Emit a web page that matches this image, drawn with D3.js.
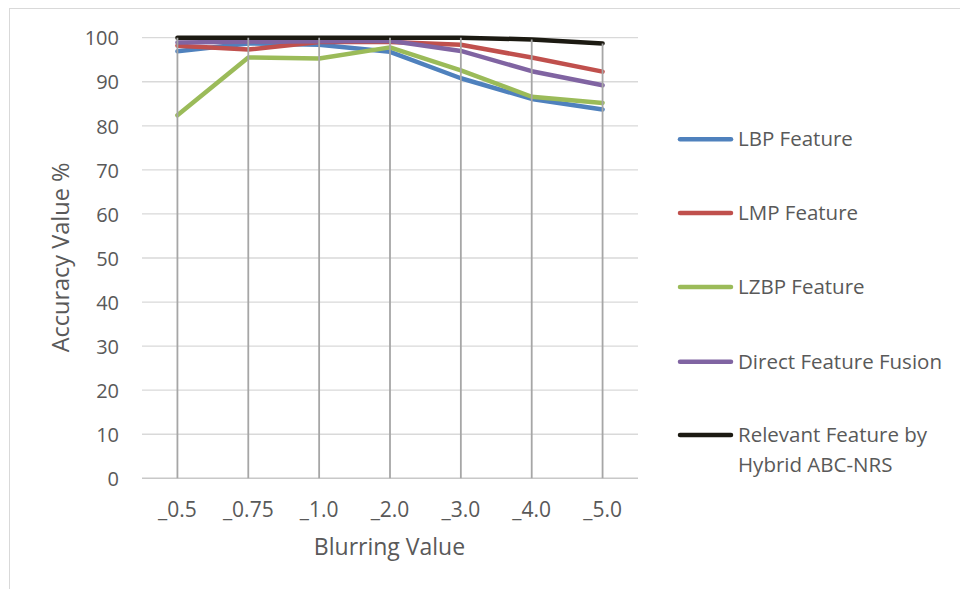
<!DOCTYPE html>
<html>
<head>
<meta charset="utf-8">
<script src="https://cdn.jsdelivr.net/npm/d3@7"></script>
<style>
  html, body { margin: 0; padding: 0; background: #fff; }
  svg { display: block; font-family: "Open Sans", "Noto Sans", sans-serif; }
</style>
</head>
<body>
<svg id="chart" width="960" height="589"></svg>
<script>
// Blurring levels on the x axis
const categories = ["_0.5", "_0.75", "_1.0", "_2.0", "_3.0", "_4.0", "_5.0"];

// Accuracy (%) of each feature set at each blurring level
const lbpFeature      = [96.9, 98.7, 98.4, 96.8, 90.8, 86.1, 83.7];
const lmpFeature      = [98.2, 97.3, 99.0, 99.0, 98.4, 95.5, 92.3];
const lzbpFeature     = [82.4, 95.5, 95.3, 97.8, 92.6, 86.6, 85.2];
const directFusion    = [98.9, 99.1, 99.2, 99.3, 97.0, 92.4, 89.2];
const relevantFeature = [100, 100, 100, 100, 100, 99.6, 98.7];

const seriesNames  = ["LBP Feature", "LMP Feature", "LZBP Feature", "Direct Feature Fusion", "Relevant Feature by\nHybrid ABC-NRS"];
const seriesColors = ["#4f81bd", "#c0504d", "#9bbb59", "#8064a2", "#1c1a12"];
const yTicks = [0, 10, 20, 30, 40, 50, 60, 70, 80, 90, 100];

const series = [lbpFeature, lmpFeature, lzbpFeature, directFusion, relevantFeature]
  .map((values, i) => ({ name: seriesNames[i], color: seriesColors[i], values }));

const svg = d3.select("#chart");
const textColor = "#595959";

// chart-area frame
svg.append("rect")
  .attr("x", 9.5).attr("y", 8.5).attr("width", 1000).attr("height", 1000)
  .attr("fill", "none").attr("stroke", "#d9d9d9").attr("stroke-width", 1);

const plot = { left: 142, right: 638, top: 37.7, bottom: 478.3 };

const x = d3.scaleBand().domain(categories).range([plot.left, plot.right]);
const xc = c => x(c) + x.bandwidth() / 2;
const y = d3.scaleLinear().domain([0, 100]).range([plot.bottom, plot.top]);

// horizontal gridlines
svg.append("g")
  .selectAll("line")
  .data(yTicks.filter(t => t > 0))
  .join("line")
  .attr("x1", plot.left).attr("x2", plot.right)
  .attr("y1", d => y(d)).attr("y2", d => y(d))
  .attr("stroke", "#d9d9d9").attr("stroke-width", 1.3);

// y axis labels
const yAxis = d3.axisLeft(y).tickValues(yTicks).tickSize(0).tickPadding(0);
const gy = svg.append("g").attr("transform", `translate(${plot.left - 23},0)`).call(yAxis);
gy.select(".domain").remove();
gy.selectAll("text")
  .attr("fill", textColor).attr("font-size", 20)
  .attr("font-family", "Open Sans").attr("dy", "0.36em");

// category axis line
svg.append("line")
  .attr("x1", plot.left).attr("x2", plot.right)
  .attr("y1", y(0)).attr("y2", y(0))
  .attr("stroke", "#c8c8c8").attr("stroke-width", 1.6);

// x axis labels
const xAxis = d3.axisBottom(x).tickSize(0).tickPadding(0);
const gx = svg.append("g").attr("transform", `translate(0,${plot.bottom})`).call(xAxis);
gx.select(".domain").remove();
gx.selectAll("text")
  .attr("fill", textColor).attr("font-size", 21)
  .attr("font-family", "Open Sans").attr("dy", null).attr("y", 38.5);

// series lines
const line = d3.line()
  .x((d, i) => xc(categories[i]))
  .y(d => y(d));

svg.append("g")
  .selectAll("path")
  .data(series)
  .join("path")
  .attr("d", d => line(d.values))
  .attr("fill", "none")
  .attr("stroke", d => d.color)
  .attr("stroke-width", 4.5)
  .attr("stroke-linejoin", "round")
  .attr("stroke-linecap", "round");

// drop lines from the highest series value to the axis
svg.append("g")
  .selectAll("line")
  .data(categories)
  .join("line")
  .attr("x1", d => xc(d)).attr("x2", d => xc(d))
  .attr("y1", (d, i) => y(d3.max(series, s => s.values[i])))
  .attr("y2", y(0))
  .attr("stroke", "#a6a6a6").attr("stroke-width", 1.8);

// axis titles
svg.append("text")
  .attr("x", 389.5).attr("y", 555)
  .attr("text-anchor", "middle")
  .attr("fill", textColor).attr("font-size", 23)
  .text("Blurring Value");

svg.append("text")
  .attr("transform", "translate(69,257.5) rotate(-90)")
  .attr("text-anchor", "middle")
  .attr("fill", textColor).attr("font-size", 23.5)
  .text("Accuracy Value %");

// legend
const legendRows = [139.3, 213, 287, 361.7, 435];
const legend = svg.append("g")
  .selectAll("g")
  .data(series)
  .join("g")
  .attr("transform", (d, i) => `translate(0,${legendRows[i]})`);

legend.append("line")
  .attr("x1", 680).attr("x2", 731)
  .attr("stroke", d => d.color).attr("stroke-width", 4.5)
  .attr("stroke-linecap", "round");

legend.append("text")
  .attr("x", 738)
  .attr("fill", textColor).attr("font-size", 20.5)
  .selectAll("tspan")
  .data(d => d.name.split("\n"))
  .join("tspan")
  .attr("x", 738)
  .attr("dy", (d, i) => i === 0 ? "0.35em" : "1.46em")
  .text(d => d);
</script>
</body>
</html>
